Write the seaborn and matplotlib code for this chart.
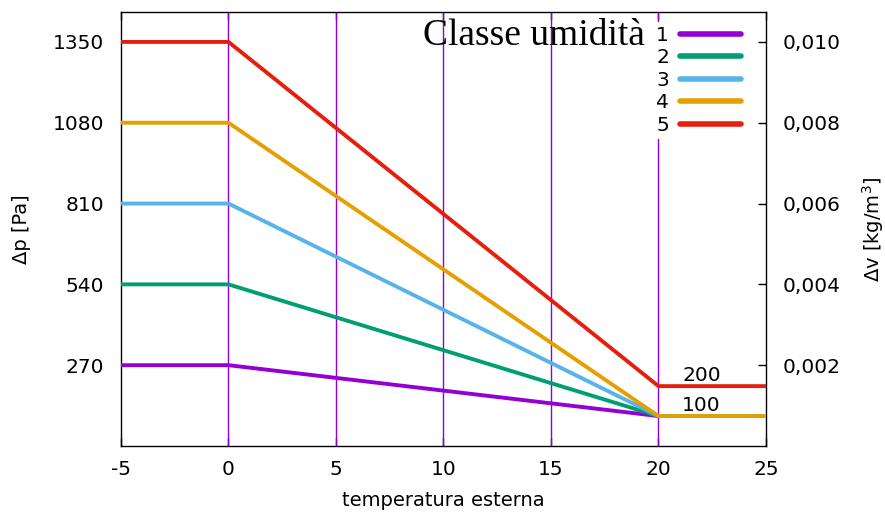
import pandas as pd
import numpy as np
import matplotlib
matplotlib.use("Agg")
import matplotlib.pyplot as plt
import seaborn as sns
from matplotlib.ticker import FuncFormatter

# --- DATI ---
temperatura = [-5, 0, 20, 25]
classe_1 = [270, 270, 100, 100]
classe_2 = [540, 540, 100, 100]
classe_3 = [810, 810, 100, 100]
classe_4 = [1080, 1080, 100, 100]
classe_5 = [1350, 1350, 200, 200]
classi = ["1", "2", "3", "4", "5"]
colori = ["#9400d3", "#009e73", "#56b4e9", "#e69f00", "#e51e10"]

x_ticks = [-5, 0, 5, 10, 15, 20, 25]
y_ticks = [270, 540, 810, 1080, 1350]
v_ticks = [0.002, 0.004, 0.006, 0.008, 0.010]
griglia_x = [0, 5, 10, 15, 20]

# tabella lunga per seaborn
righe = []
for nome, valori in zip(classi, [classe_1, classe_2, classe_3, classe_4, classe_5]):
    for t, p in zip(temperatura, valori):
        righe.append({"temperatura": t, "dp": p, "classe": nome})
df = pd.DataFrame(righe)

sns.set_style("white")
plt.rcParams["font.family"] = ["DejaVu Sans"]
plt.rcParams["text.color"] = "black"
plt.rcParams["axes.labelcolor"] = "black"
plt.rcParams["xtick.color"] = "black"
plt.rcParams["ytick.color"] = "black"

fig = plt.figure(figsize=(8.85, 5.15), dpi=100)
ax = fig.add_axes([0.1367, 0.134, 0.8655 - 0.1367, 0.9767 - 0.134])

# griglia verticale viola
for gx in griglia_x:
    ax.axvline(gx, color="#9400d3", lw=1.0, zorder=1)

sns.lineplot(data=df, x="temperatura", y="dp", hue="classe", palette=colori,
             linewidth=2.8, ax=ax, zorder=3, sort=False)

ax.set_xlim(-5, 25)
ax.set_ylim(0, 1450)
ax.set_xticks(x_ticks)
ax.set_xticklabels([str(t) for t in x_ticks])
ax.set_yticks(y_ticks)
ax.set_yticklabels([str(t) for t in y_ticks])
ax.tick_params(axis="x", direction="in", length=6, width=1, color="black",
               labelsize=14.5, pad=10, top=True, bottom=True)
ax.tick_params(axis="y", length=0, labelsize=14.5, pad=12)
ax.set_xlabel("temperatura esterna", fontsize=14, labelpad=9)
ax.set_ylabel("Δp [Pa]", fontsize=14, labelpad=16)
for s in ax.spines.values():
    s.set_color("black")
    s.set_linewidth(1.0)

# asse destro
ax2 = ax.twinx()
ax2.set_ylim(0, 1450 / 135000)
ax2.set_yticks(v_ticks)
ax2.yaxis.set_major_formatter(FuncFormatter(lambda v, _: f"{v:.3f}".replace(".", ",")))
ax2.tick_params(axis="y", direction="in", length=6, width=1, color="black",
                labelsize=14.5, pad=12)
ax2.set_ylabel("Δv [kg/m$^3$]", fontsize=14, labelpad=14)
for s in ax2.spines.values():
    s.set_visible(False)

# etichette valori
ax.text(21.1, 216, "200", fontsize=14.5, va="baseline", ha="left", zorder=5)
ax.text(21.1, 116, "100", fontsize=14.5, va="baseline", ha="left", zorder=5)

# titolo legenda
ax.text(9.05, 1340, "Classe umidità", fontsize=27, family="Liberation Serif",
        color="black", va="baseline", ha="left", zorder=6)

handles, labels = ax.get_legend_handles_labels()
leg = ax.legend(handles, labels, loc="upper right", bbox_to_anchor=(0.967, 0.978),
                markerfirst=False, handlelength=3.0, handletextpad=0.55,
                labelspacing=0.18, fontsize=14.5, frameon=True,
                facecolor="white", edgecolor="none", framealpha=1.0,
                borderpad=0.2, borderaxespad=0)
leg.set_zorder(5)
for line in leg.get_lines():
    line.set_linewidth(4)

fig.savefig("out.png", dpi=100)
